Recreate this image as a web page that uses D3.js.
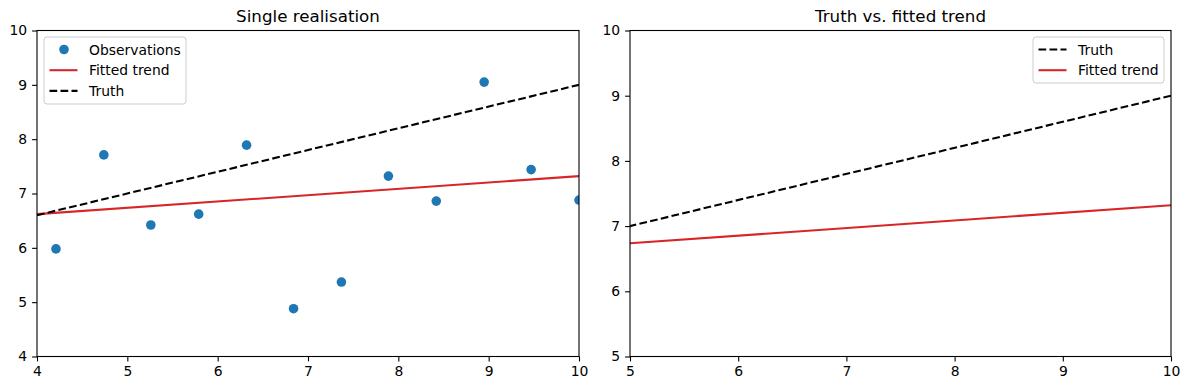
<!DOCTYPE html>
<html>
<head>
<meta charset="utf-8">
<script src="https://cdn.jsdelivr.net/npm/d3@7"></script>
<style>
  body { margin: 0; background: #fff; }
  svg text { font-family: "DejaVu Sans", sans-serif; fill: #000; }
</style>
</head>
<body>
<div id="chart"></div>
<script>
// Observations (single realisation)
const obsX = [4.21, 4.74, 5.26, 5.79, 6.32, 6.84, 7.37, 7.89, 8.42, 8.95, 9.47, 10.0];
const obsY = [5.98, 7.71, 6.42, 6.62, 7.89, 4.88, 5.37, 7.32, 6.86, 9.05, 7.44, 6.88];

// Trend lines, given at their end points
const trendX = [4, 10];
const truthY = [6.6, 9.0];
const fittedY = [6.62, 7.32];

// Axis ticks
const leftTicks = [4, 5, 6, 7, 8, 9, 10];
const rightTicks = [5, 6, 7, 8, 9, 10];

const titles = ["Single realisation", "Truth vs. fitted trend"];

const W = 1189, H = 390;
const blue = "#1f77b4", red = "#d62728";
const dotR = 4.8;

const svg = d3.select("#chart").append("svg")
    .attr("width", W)
    .attr("height", H);

const panels = [
    { x0: 37, x1: 579, dom: [4, 10], ticks: leftTicks, title: titles[0], scatter: true,
      legend: { x: 44, y: 37, w: 142, h: 67,
                items: ["obs", "fit", "truth"] } },
    { x0: 630, x1: 1171, dom: [5, 10], ticks: rightTicks, title: titles[1], scatter: false,
      legend: { x: 1033, y: 37, w: 131, h: 46,
                items: ["truth", "fit"] } }
];
const plotTop = 30.5, plotBottom = 356.5;

const labels = { obs: "Observations", fit: "Fitted trend", truth: "Truth" };

panels.forEach((p, k) => {
    const x = d3.scaleLinear().domain(p.dom).range([p.x0, p.x1]);
    const y = d3.scaleLinear().domain(p.dom).range([plotBottom, plotTop]);

    const g = svg.append("g");
    const clipId = "clip" + k;
    g.append("clipPath").attr("id", clipId)
        .append("rect")
        .attr("x", p.x0).attr("y", plotTop)
        .attr("width", p.x1 - p.x0).attr("height", plotBottom - plotTop);

    const plot = g.append("g").attr("clip-path", `url(#${clipId})`);

    const line = d3.line().x(d => x(d[0])).y(d => y(d[1]));

    if (p.scatter) {
        plot.selectAll("circle")
            .data(obsX.map((v, i) => [v, obsY[i]]))
            .join("circle")
            .attr("cx", d => x(d[0]))
            .attr("cy", d => y(d[1]))
            .attr("r", dotR)
            .attr("fill", blue);
    }

    const drawFit = () => plot.append("path")
        .attr("d", line(trendX.map((v, i) => [v, fittedY[i]])))
        .attr("fill", "none").attr("stroke", red).attr("stroke-width", 2.08);
    const drawTruth = () => plot.append("path")
        .attr("d", line(trendX.map((v, i) => [v, truthY[i]])))
        .attr("fill", "none").attr("stroke", "#000").attr("stroke-width", 2.08)
        .attr("stroke-dasharray", "7.7,3.3");

    if (p.scatter) { drawFit(); drawTruth(); }
    else { drawTruth(); drawFit(); }

    // axes
    const xAxis = d3.axisBottom(x).tickValues(p.ticks).tickFormat(d3.format("d"))
        .tickSize(4.9).tickPadding(4.9);
    const yAxis = d3.axisLeft(y).tickValues(p.ticks).tickFormat(d3.format("d"))
        .tickSize(4.9).tickPadding(4.9);

    const gx = g.append("g").attr("transform", `translate(0,${plotBottom})`).call(xAxis);
    const gy = g.append("g").attr("transform", `translate(${p.x0},0)`).call(yAxis);
    [gx, gy].forEach(a => {
        a.select(".domain").remove();
        a.selectAll("line").attr("stroke", "#000").attr("stroke-width", 1.1);
        a.selectAll("text").attr("font-size", 13.9).attr("font-family", "DejaVu Sans");
    });

    // frame
    g.append("rect")
        .attr("x", p.x0).attr("y", plotTop)
        .attr("width", p.x1 - p.x0).attr("height", plotBottom - plotTop)
        .attr("fill", "none").attr("stroke", "#000").attr("stroke-width", 1.1);

    // title
    g.append("text")
        .attr("x", (p.x0 + p.x1) / 2).attr("y", 22)
        .attr("text-anchor", "middle")
        .attr("font-size", 16.7)
        .text(p.title);

    // legend
    const L = p.legend;
    const lg = g.append("g").attr("transform", `translate(${L.x},${L.y})`);
    lg.append("rect")
        .attr("width", L.w).attr("height", L.h)
        .attr("rx", 3).attr("ry", 3)
        .attr("fill", "rgba(255,255,255,0.8)")
        .attr("stroke", "#cccccc").attr("stroke-width", 1);

    L.items.forEach((it, i) => {
        const cy = 12.5 + i * 20.7;
        if (it === "obs") {
            lg.append("circle").attr("cx", 20).attr("cy", cy).attr("r", dotR).attr("fill", blue);
        } else {
            lg.append("line")
                .attr("x1", 5.5).attr("x2", 33.5).attr("y1", cy).attr("y2", cy)
                .attr("stroke", it === "fit" ? red : "#000")
                .attr("stroke-width", 2.08)
                .attr("stroke-dasharray", it === "truth" ? "7.7,3.3" : null);
        }
        lg.append("text")
            .attr("x", 45).attr("y", cy)
            .attr("dy", "0.36em")
            .attr("font-size", 13.9)
            .text(labels[it]);
    });
});
</script>
</body>
</html>
